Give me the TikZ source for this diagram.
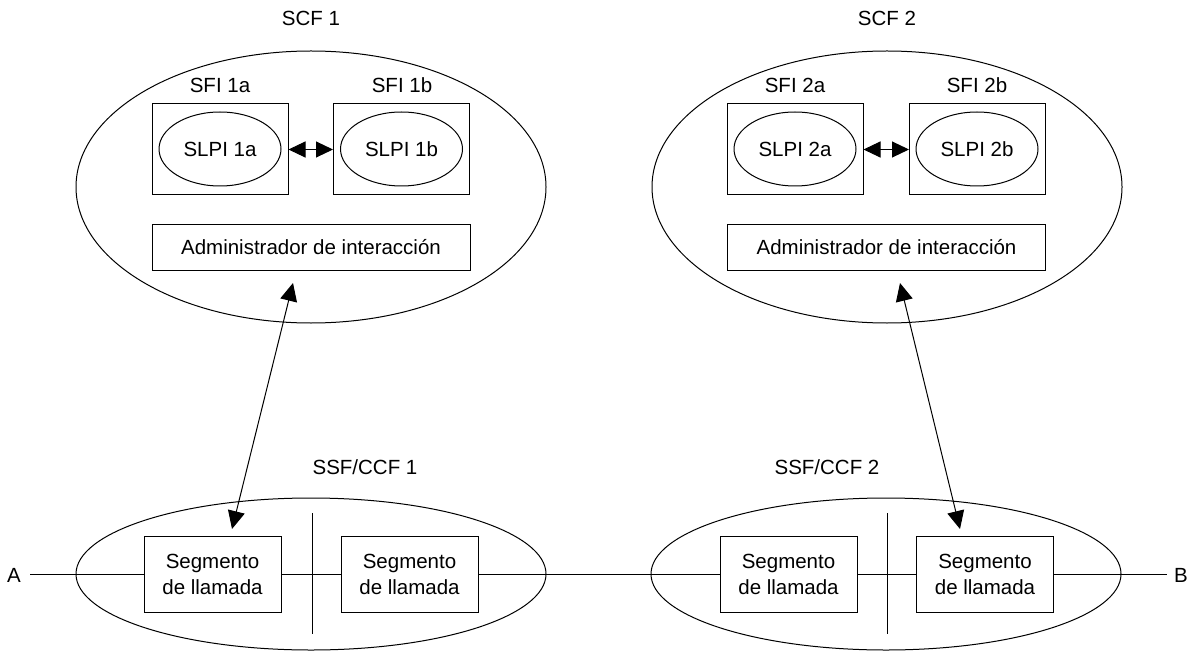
\documentclass[tikz,border=0pt]{standalone}
\usepackage{fontspec}
\setmainfont{Liberation Sans}
\usetikzlibrary{shapes.geometric,arrows.meta}
\begin{document}
\begin{tikzpicture}[x=1pt,y=-1pt,line width=1pt,
  every node/.style={font=\fontsize{20.5}{26}\selectfont},
  bigell/.style={draw,ellipse,inner sep=0pt},
  box/.style={draw,rectangle,inner sep=0pt,align=center},
  lbl/.style={inner sep=0pt},
  larr/.style={{Triangle[length=18pt,width=17pt]}-{Triangle[length=18pt,width=17pt]}},
  darr/.style={{Triangle[length=17pt,width=16pt]}-{Triangle[length=17pt,width=16pt]}}]
\useasboundingbox (0,0) rectangle (1198,652);
% top ellipses
\node[bigell,minimum width=470,minimum height=272] (scf1) at (311,187) {};
\node[bigell,minimum width=470,minimum height=272] (scf2) at (887,187) {};
\node[lbl] (scf1l) at (311,18) {SCF 1};
\node[lbl] (scf2l) at (887,18) {SCF 2};
% SFI boxes
\node[box,minimum width=136,minimum height=91] (sfi1a) at (220,149.5) {};
\node[box,minimum width=136,minimum height=91] (sfi1b) at (401.5,149.5) {};
\node[box,minimum width=136,minimum height=91] (sfi2a) at (795,149.5) {};
\node[box,minimum width=136,minimum height=91] (sfi2b) at (977.5,149.5) {};
\node[lbl] (sfi1al) at (220,85) {SFI 1a};
\node[lbl] (sfi1bl) at (402,85) {SFI 1b};
\node[lbl] (sfi2al) at (795,85) {SFI 2a};
\node[lbl] (sfi2bl) at (977,85) {SFI 2b};
% SLPI ellipses
\node[bigell,minimum width=122,minimum height=74] (slpi1a) at (220,149) {SLPI 1a};
\node[bigell,minimum width=122,minimum height=74] (slpi1b) at (401.5,149) {SLPI 1b};
\node[bigell,minimum width=122,minimum height=74] (slpi2a) at (795,149) {SLPI 2a};
\node[bigell,minimum width=122,minimum height=74] (slpi2b) at (977,149) {SLPI 2b};
% admin boxes
\node[box,minimum width=318,minimum height=45] (adm1) at (311,247.5) {Administrador de interacción};
\node[box,minimum width=318,minimum height=45] (adm2) at (886.5,247.5) {Administrador de interacción};
% double arrows
\draw[darr] (sfi1a.east) -- (sfi1b.west);
\draw[darr] (sfi2a.east) -- (sfi2b.west);
% bottom ellipses
\node[bigell,minimum width=470,minimum height=152] (ssf1) at (311,574) {};
\node[bigell,minimum width=470,minimum height=152] (ssf2) at (886,574) {};
\node[lbl] (ssf1l) at (365,467) {SSF/CCF 1};
\node[lbl] (ssf2l) at (827,467) {SSF/CCF 2};
% dividers
\coordinate (d1t) at (312,513); \coordinate (d1b) at (312,634);
\coordinate (d2t) at (887,513); \coordinate (d2b) at (887,634);
\draw (d1t) -- (d1b);
\draw (d2t) -- (d2b);
% segment boxes
\node[box,minimum width=137,minimum height=76] (seg1) at (212.5,574) {Segmento\\de llamada};
\node[box,minimum width=137,minimum height=76] (seg2) at (409.5,574) {Segmento\\de llamada};
\node[box,minimum width=137,minimum height=76] (seg3) at (788.5,574) {Segmento\\de llamada};
\node[box,minimum width=137,minimum height=76] (seg4) at (985,574) {Segmento\\de llamada};
% A and B
\node[lbl,anchor=center] (A) at (14,575) {A};
\node[lbl,anchor=center] (B) at (1181,575) {B};
\coordinate (Ae) at (30,574);
\coordinate (Bw) at (1167,574);
\draw (Ae) -- (seg1.west);
\draw (seg1.east) -- (seg2.west);
\draw (seg2.east) -- (seg3.west);
\draw (seg3.east) -- (seg4.west);
\draw (seg4.east) -- (Bw);
% long arrows
\coordinate (a1t) at (293,283); \coordinate (a1b) at (232,529);
\coordinate (a2t) at (900,283); \coordinate (a2b) at (960,529);
\draw[larr] (a1t) -- (a1b);
\draw[larr] (a2t) -- (a2b);
\end{tikzpicture}
\end{document}
